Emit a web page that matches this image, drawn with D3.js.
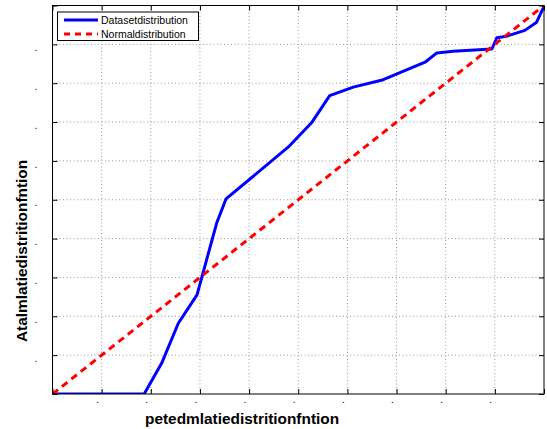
<!DOCTYPE html>
<html>
<head>
<meta charset="utf-8">
<script src="https://cdn.jsdelivr.net/npm/d3@7/dist/d3.min.js"></script>
<style>
  body { margin: 0; background: #fff; }
  svg { display: block; font-family: "Liberation Sans", Arial, sans-serif; }
</style>
</head>
<body>
<div id="chart"></div>
<script>
// values (cumulative probabilities)
var datasetX = [0, 0.1865, 0.222, 0.256, 0.294, 0.334, 0.353, 0.480, 0.527, 0.564, 0.612, 0.673, 0.758, 0.782, 0.815, 0.894, 0.904, 0.924, 0.961, 0.985, 1.0];
var datasetY = [0, 0, 0.079, 0.182, 0.255, 0.440, 0.502, 0.636, 0.698, 0.768, 0.790, 0.809, 0.854, 0.878, 0.882, 0.888, 0.917, 0.921, 0.936, 0.957, 0.998];
var normalX = [0, 1];
var normalY = [0, 1];

var tickValues = [0, 0.1, 0.2, 0.3, 0.4, 0.5, 0.6, 0.7, 0.8, 0.9, 1];
var tickLabels = ["", ".", ".", ".", ".", ".", ".", ".", ".", ".", ""];

var seriesNames = ["Datasetdistribution", "Normaldistribution"];
var xTitle = "petedmlatiedistritionfntion";
var yTitle = "Atalmlatiedistritionfntion";

var chart = {
  draw: function(options) {
    var margin = {top: options.top, right: options.right, bottom: options.bottom, left: options.left},
        width = options.width - margin.left - margin.right,
        height = options.height - margin.top - margin.bottom;

    var x = d3.scaleLinear().domain([0, 1]).range([0, width]);
    var y = d3.scaleLinear().domain([0, 1]).range([height, 0]);

    var root = d3.select("#chart").append("svg")
        .attr("width", options.width)
        .attr("height", options.height);

    root.append("rect")
        .attr("width", options.width)
        .attr("height", options.height)
        .attr("fill", "#fff");

    var svg = root.append("g")
        .attr("transform", "translate(" + margin.left + "," + margin.top + ")");

    svg.append("clipPath").attr("id", "plotClip")
      .append("rect").attr("width", width).attr("height", height);

    // dotted grid
    svg.append("g")
        .attr("class", "grid")
        .selectAll("line.gx")
        .data(tickValues.slice(1, -1))
        .enter().append("line")
        .attr("x1", function(d) { return x(d); })
        .attr("x2", function(d) { return x(d); })
        .attr("y1", 0)
        .attr("y2", height);
    svg.select(".grid")
        .selectAll("line.gy")
        .data(tickValues.slice(1, -1))
        .enter().append("line")
        .attr("y1", function(d) { return y(d); })
        .attr("y2", function(d) { return y(d); })
        .attr("x1", 0)
        .attr("x2", width);
    svg.selectAll(".grid line")
        .attr("stroke", "#9a9a9a")
        .attr("stroke-width", 1)
        .attr("stroke-dasharray", "1,2.5");

    var line = d3.line()
        .x(function(d) { return x(d[0]); })
        .y(function(d) { return y(d[1]); });

    var plot = svg.append("g").attr("clip-path", "url(#plotClip)");

    plot.append("path")
        .datum(d3.zip(datasetX, datasetY))
        .attr("fill", "none")
        .attr("stroke", "#0000ff")
        .attr("stroke-width", 3)
        .attr("stroke-linejoin", "round")
        .attr("d", line);

    plot.append("path")
        .datum(d3.zip(normalX, normalY))
        .attr("fill", "none")
        .attr("stroke", "#ff0000")
        .attr("stroke-width", 3)
        .attr("stroke-dasharray", "7,5")
        .attr("d", line);

    // axes with inward ticks on all four sides
    var fmt = function(d, i) { return tickLabels[i]; };

    var gx = svg.append("g")
        .attr("transform", "translate(0," + height + ")")
        .call(d3.axisBottom(x).tickValues(tickValues).tickFormat(fmt).tickSizeInner(-5).tickSizeOuter(0).tickPadding(8));
    gx.selectAll("text").attr("text-anchor", "start").attr("dx", "-6").attr("dy", "0.1em");

    var gy = svg.append("g")
        .call(d3.axisLeft(y).tickValues(tickValues).tickFormat(fmt).tickSizeInner(-5).tickSizeOuter(0).tickPadding(0));
    gy.selectAll("text").attr("text-anchor", "start").attr("x", -18).attr("dy", "0.62em");

    svg.append("g")
        .call(d3.axisTop(x).tickValues(tickValues).tickFormat("").tickSizeInner(-5).tickSizeOuter(0));
    svg.append("g")
        .attr("transform", "translate(" + width + ",0)")
        .call(d3.axisRight(y).tickValues(tickValues).tickFormat("").tickSizeInner(-5).tickSizeOuter(0));

    svg.selectAll(".domain").remove();
    svg.selectAll(".tick line").attr("stroke", "#000");
    svg.selectAll(".tick text").attr("font-size", "10px").attr("fill", "#000");

    svg.append("rect")
        .attr("width", width)
        .attr("height", height)
        .attr("fill", "none")
        .attr("stroke", "#000")
        .attr("stroke-width", 1);

    // axis titles
    root.append("text")
        .attr("x", 145)
        .attr("y", 424)
        .attr("font-size", "15.4px")
        .attr("font-weight", "bold")
        .text(xTitle);

    root.append("text")
        .attr("transform", "translate(26.5,342) rotate(-90)")
        .attr("font-size", "15.4px")
        .attr("font-weight", "bold")
        .text(yTitle);

    // legend
    var legend = svg.append("g").attr("transform", "translate(5,6.5)");
    legend.append("rect")
        .attr("width", 141)
        .attr("height", 28.5)
        .attr("fill", "#fff")
        .attr("stroke", "#000");

    var items = legend.selectAll(".item")
        .data(seriesNames)
        .enter().append("g")
        .attr("transform", function(d, i) { return "translate(0," + (8 + i * 14) + ")"; });

    items.append("line")
        .attr("x1", 6.5).attr("x2", 40.5)
        .attr("stroke", function(d, i) { return i === 0 ? "#0000ff" : "#ff0000"; })
        .attr("stroke-width", 3)
        .attr("stroke-dasharray", function(d, i) { return i === 0 ? null : "6,5"; });

    items.append("text")
        .attr("x", 43.5)
        .attr("dy", "0.36em")
        .attr("font-size", "10.5px")
        .text(function(d) { return d; });
  }
};

chart.draw({width: 547, height: 429, top: 5.5, right: 3, bottom: 35, left: 52.5});
</script>
</body>
</html>
